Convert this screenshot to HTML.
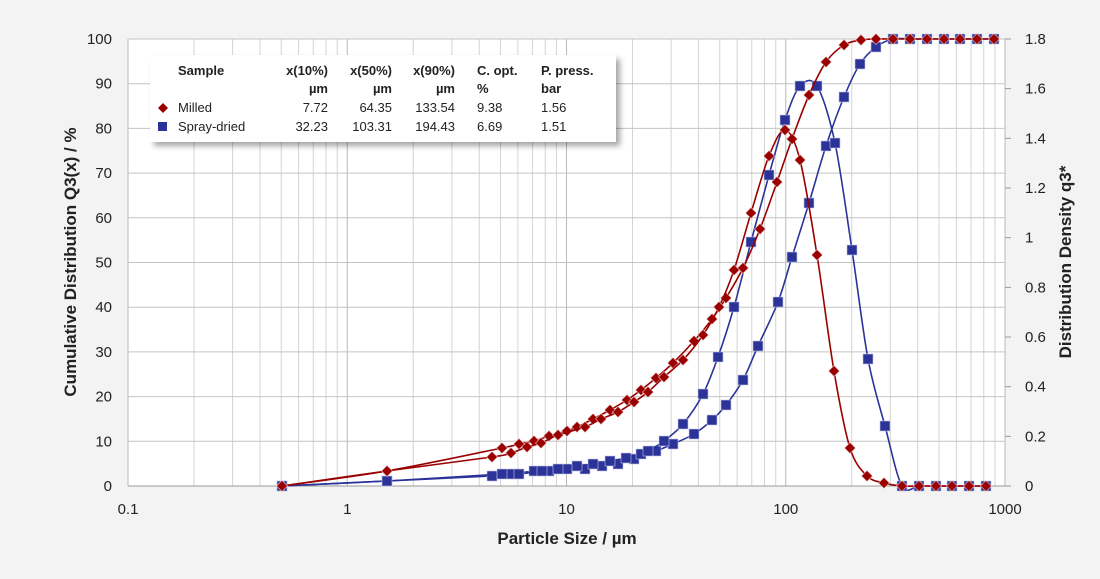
<!DOCTYPE html>
<html><head><meta charset="utf-8"><style>
body{margin:0;background:#f3f3f3;font-family:"Liberation Sans",sans-serif;}
svg{display:block}
text{font-family:"Liberation Sans",sans-serif;fill:#222}
</style></head><body>
<svg id="s" width="1100" height="579" xmlns="http://www.w3.org/2000/svg">
<rect x="0" y="0" width="1100" height="579" fill="#f3f3f3"/>
<rect x="128" y="39" width="877" height="447" fill="#fff"/>
<g id="grid"></g>
<g id="series"></g>
<defs><filter id="sh" x="-5%" y="-10%" width="115%" height="130%"><feDropShadow dx="4" dy="4" stdDeviation="3" flood-color="#000" flood-opacity="0.35"/></filter></defs>
<rect x="150" y="55" width="466" height="87" fill="#fff" filter="url(#sh)"/>
<g font-size="13">
<text x="178" y="75" font-weight="bold">Sample</text>
<text x="328" y="75" font-weight="bold" text-anchor="end">x(10%)</text>
<text x="328" y="93" font-weight="bold" text-anchor="end">µm</text>
<text x="392" y="75" font-weight="bold" text-anchor="end">x(50%)</text>
<text x="392" y="93" font-weight="bold" text-anchor="end">µm</text>
<text x="455" y="75" font-weight="bold" text-anchor="end">x(90%)</text>
<text x="455" y="93" font-weight="bold" text-anchor="end">µm</text>
<text x="477" y="75" font-weight="bold">C. opt.</text>
<text x="477" y="93" font-weight="bold">%</text>
<text x="541" y="75" font-weight="bold">P. press.</text>
<text x="541" y="93" font-weight="bold">bar</text>
<path d="M163 103l5 5-5 5-5-5z" fill="#9b0000"/>
<text x="178" y="112">Milled</text>
<text x="328" y="112" text-anchor="end">7.72</text>
<text x="392" y="112" text-anchor="end">64.35</text>
<text x="455" y="112" text-anchor="end">133.54</text>
<text x="477" y="112">9.38</text>
<text x="541" y="112">1.56</text>
<rect x="158" y="122" width="9" height="9" fill="#2b3399"/>
<text x="178" y="131">Spray-dried</text>
<text x="328" y="131" text-anchor="end">32.23</text>
<text x="392" y="131" text-anchor="end">103.31</text>
<text x="455" y="131" text-anchor="end">194.43</text>
<text x="477" y="131">6.69</text>
<text x="541" y="131">1.51</text>
</g>
<g id="labels" font-size="15"></g>
<text font-size="17" font-weight="bold" text-anchor="middle" transform="translate(76,262) rotate(-90)">Cumulative Distribution Q3(x) / %</text>
<text font-size="17" font-weight="bold" text-anchor="middle" transform="translate(1071,262) rotate(-90)">Distribution Density q3*</text>
<text x="567" y="544" font-size="17" font-weight="bold" text-anchor="middle">Particle Size / µm</text>
</svg>
<script>
var NS="http://www.w3.org/2000/svg";
function el(p,t,a,txt){var e=document.createElementNS(NS,t);for(var k in a)e.setAttribute(k,a[k]);if(txt!==undefined)e.textContent=txt;p.appendChild(e);return e;}
var g=document.getElementById('grid'),L=document.getElementById('labels'),S=document.getElementById('series');
function X(v){return 128+219.25*(Math.log10(v)+1);}
for(var d=-1;d<3;d++)for(var k=1;k<10;k++){var x=X(k*Math.pow(10,d));el(g,'line',{x1:x,x2:x,y1:39,y2:486,stroke:k==1?'#b8b8b8':'#d4d4d4','stroke-width':1});}
el(g,'line',{x1:1005,x2:1005,y1:39,y2:486,stroke:'#b8b8b8'});
for(var i=0;i<=10;i++){var y=486-44.7*i;el(g,'line',{x1:128,x2:1005,y1:y,y2:y,stroke:'#c4c4c4'});el(L,'text',{x:112,y:y+5,'text-anchor':'end'},String(i*10));}
for(var i=0;i<=9;i++){var y=486-49.667*i;el(g,'line',{x1:1005,x2:1011,y1:y,y2:y,stroke:'#999'});var t=(i*0.2).toFixed(1).replace(/\.0$/,'');el(L,'text',{x:1025,y:y+5},t);}
el(g,'line',{x1:128,x2:1005,y1:486,y2:486,stroke:'#999'});
var xl=[[0.1,'0.1'],[1,'1'],[10,'10'],[100,'100'],[1000,'1000']];
xl.forEach(function(a){el(L,'text',{x:X(a[0]),y:514,'text-anchor':'middle'},a[1]);});
function path(p){var d='M'+p[0][0]+' '+p[0][1];for(var i=0;i<p.length-1;i++){var p0=p[i-1]||p[i],p1=p[i],p2=p[i+1],p3=p[i+2]||p2;var t=0.16;
d+=' C'+(p1[0]+(p2[0]-p0[0])*t)+' '+(p1[1]+(p2[1]-p0[1])*t)+' '+(p2[0]-(p3[0]-p1[0])*t)+' '+(p2[1]-(p3[1]-p1[1])*t)+' '+p2[0]+' '+p2[1];}return d;}
var topR=[893,910,927,944,960,977,994].map(function(x){return[x,39];});
var botR=[902,919,936,952,969,986].map(function(x){return[x,486];});
var redC=[[282,486],[387,471],[502,448],[519,444],[534,441],[549,436],[567,431],[577,427],[593,419],[610,410],[627,400],[641,390],[656,378],[673,363],[694,341],[712,319],[726,298],[743,268],[760,229],[777,182],[792,139],[809,95],[826,62],[844,45],[861,40],[876,39]].concat(topR);
var redD=[[282,486],[387,471],[492,457],[511,453],[527,447],[541,443],[558,435],[585,427],[601,419],[618,412],[634,402],[648,392],[664,377],[683,360],[703,335],[719,307],[734,270],[751,213],[769,156],[785,130],[800,160],[817,255],[834,371],[850,448],[867,476],[884,483]].concat(botR);
var bluC=[[282,486],[387,481],[492,476],[511,474],[534,471],[549,471],[567,469],[585,469],[602,466],[618,464],[634,459],[656,451],[673,444],[694,434],[712,420],[726,405],[743,380],[758,346],[778,302],[792,257],[809,203],[826,146],[844,97],[860,64],[876,47]].concat(topR);
var bluD=[[282,486],[387,481],[502,474],[519,474],[542,471],[558,469],[577,466],[593,464],[610,461],[626,458],[641,454],[648,451],[664,441],[683,424],[703,394],[718,357],[734,307],[751,242],[769,175],[785,120],[800,86],[817,86],[835,143],[852,250],[868,359],[885,426]].concat(botR);
function series(pts,col,diamond){el(S,'path',{d:path(pts),fill:'none',stroke:col,'stroke-width':1.6});
pts.forEach(function(p){if(diamond)el(S,'path',{d:'M'+p[0]+' '+(p[1]-5.5)+'l5.5 5.5-5.5 5.5-5.5-5.5z',fill:col,stroke:'#e8c8c8','stroke-width':0.6});
else el(S,'rect',{x:p[0]-5,y:p[1]-5,width:10,height:10,fill:col,stroke:'#c0c4e8','stroke-width':0.6});});}
series(bluC,'#2b3399',false);series(bluD,'#2b3399',false);
series(redC,'#9b0000',true);series(redD,'#9b0000',true);
</script>
</body></html>
